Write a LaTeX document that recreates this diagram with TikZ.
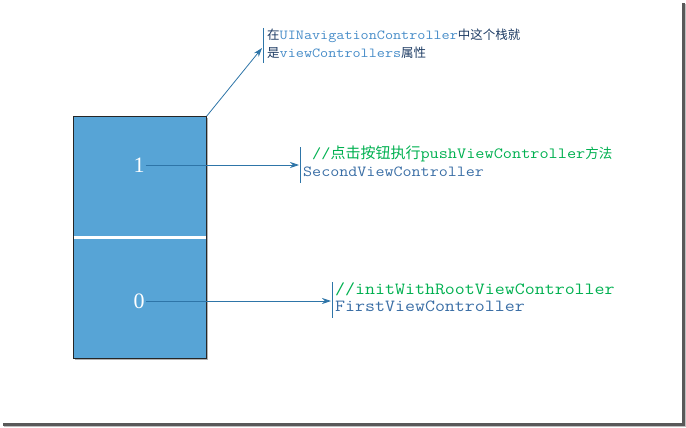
\documentclass[tikz,border=0pt]{standalone}
\usepackage{fontspec}
\setmainfont{Liberation Serif}
\setmonofont{Latin Modern Mono}[FakeStretch=1.14]
\newfontfamily\cjk{Noto Sans CJK SC}
\usetikzlibrary{arrows.meta}
\definecolor{boxblue}{RGB}{87,164,214}
\definecolor{arrowblue}{RGB}{46,117,168}
\definecolor{codegreen}{RGB}{0,176,80}
\definecolor{codeblue}{RGB}{58,110,165}
\definecolor{navblue}{RGB}{70,140,200}
\definecolor{cjknavy}{RGB}{30,60,100}
\newcommand\zhtext[2][12.5]{{\cjk\fontsize{#1}{#1}\selectfont #2}}
\newcommand\monotext[2][13.3]{{\ttfamily\fontsize{#1}{#1}\selectfont #2}}
\begin{document}
\begin{tikzpicture}[x=1pt,y=-1pt,
  stackbox/.style={draw=black!85, line width=0.8pt, fill=boxblue, minimum width=133pt, minimum height=242pt, inner sep=0, anchor=north west},
  num/.style={text=white, font=\fontsize{22}{22}\selectfont, inner sep=1pt},
  conn/.style={draw=arrowblue, line width=0.8pt, -{Stealth[length=9pt,width=6pt]}},
  bracket/.style={draw=arrowblue, line width=0.8pt},
  lbl/.style={anchor=mid west, inner sep=0, align=left}]
\useasboundingbox (0,0) rectangle (686,428);
% frame shadow
\fill[black!65] (682,3) rectangle (685,426);
\fill[black!65] (3,423) rectangle (685,426);
\fill[black!25] (685,4) rectangle (686,427);
\fill[black!25] (4,426) rectangle (686,427);
% stack
\fill[black!30] (75,118) rectangle (208,360);
\node[stackbox] (stack) at (73,116) {};
\draw[white, line width=3pt] (73.5,237) -- (205.5,237);
\node[num] (one) at (139,165) {1};
\node[num] (zero) at (139,301) {0};
% brackets
\coordinate (b1t) at (263,28); \coordinate (b1b) at (263,63);
\coordinate (b2t) at (300,147); \coordinate (b2b) at (300,183);
\coordinate (b3t) at (332,282); \coordinate (b3b) at (332,318);
\draw[bracket] (b1t) -- (b1b);
\draw[bracket] (b2t) -- (b2b);
\draw[bracket] (b3t) -- (b3b);
\coordinate (tip1) at (262,48);
\coordinate (tip2) at (299,165);
\coordinate (tip3) at (331,301);
\draw[conn] (stack.north east) -- (tip1);
\draw[conn] (one.east) -- (tip2);
\draw[conn] (zero.east) -- (tip3);
% texts
\node[lbl] (nav1) at (267,37) {\color{cjknavy}\zhtext{在}\color{navblue}\monotext[13.8]{UINavigationController}\color{cjknavy}\zhtext{中这个栈就}};
\node[lbl] (nav2) at (267,55) {\color{cjknavy}\zhtext{是}\color{navblue}\monotext[13.8]{viewControllers}\color{cjknavy}\zhtext{属性}};
\node[lbl] (push1) at (312,156) {\color{codegreen}\monotext[15.6]{//}\zhtext[15]{点击按钮执行}\monotext[15.6]{pushViewController}\zhtext[13.5]{方法}};
\node[lbl] (push2) at (303,174) {\color{codeblue}\monotext[15.4]{SecondViewController}};
\node[lbl] (root1) at (335,292) {\color{codegreen}\monotext[17]{//initWithRootViewController}};
\node[lbl] (root2) at (335,309) {\color{codeblue}\monotext[17]{FirstViewController}};
\end{tikzpicture}
\end{document}
